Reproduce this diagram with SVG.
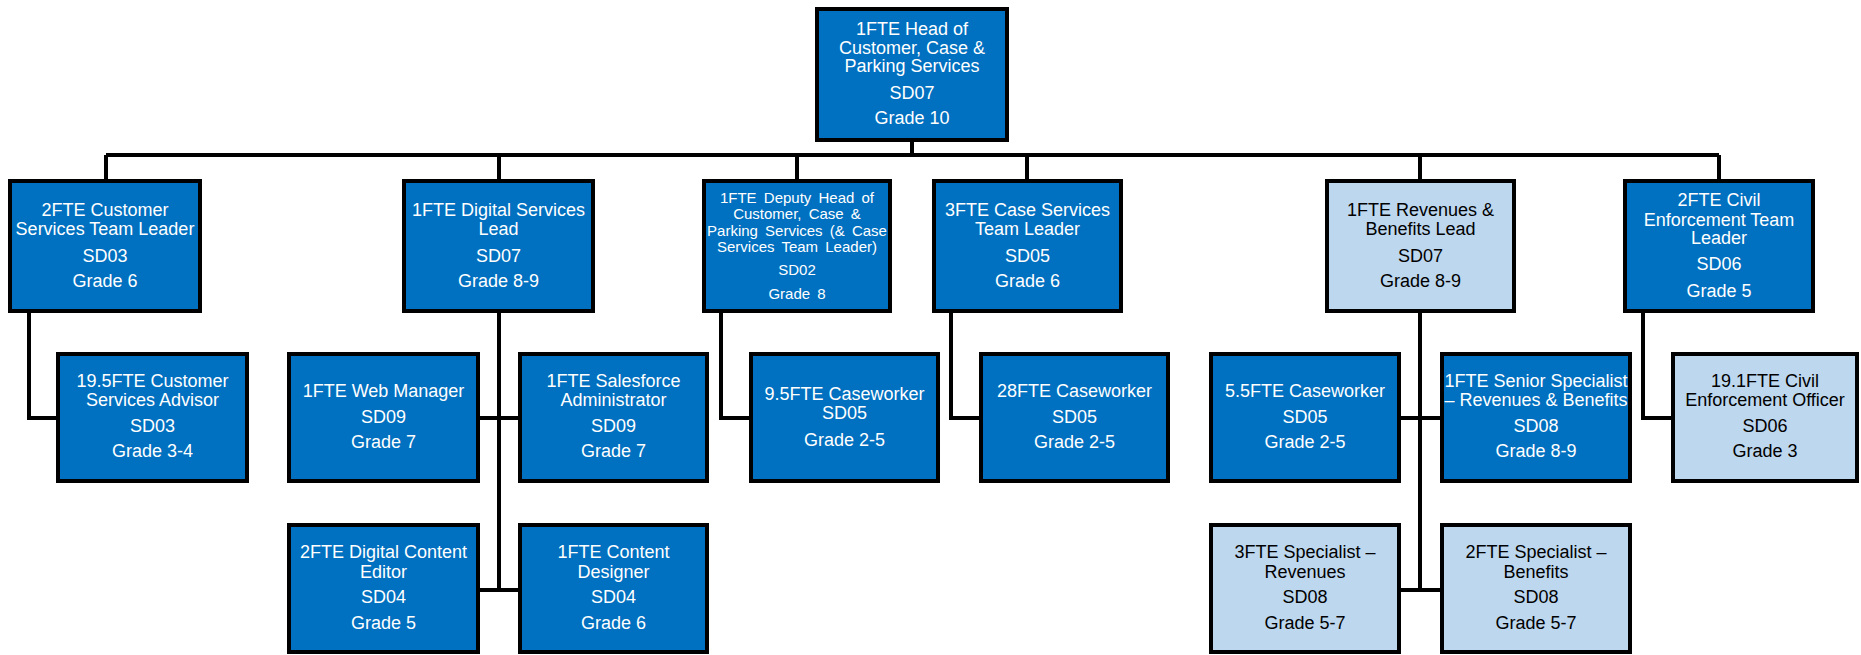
<svg xmlns="http://www.w3.org/2000/svg" width="1861" height="655" viewBox="0 0 1861 655">
  <style>
    .box { stroke: #000; stroke-width: 4; }
    .dk { fill: #0070C0; }
    .lt { fill: #BDD7EE; }
    .lbl { font-family: "Liberation Sans", Arial, sans-serif; font-size: 18px; text-anchor: middle; }
    .dk + .lbl { fill: #fff; }
    .lt + .lbl { fill: #000; }
    .sm { font-size: 15px; word-spacing: 3px; }
    .wire { fill: none; stroke: #000; stroke-width: 4; }
  </style>
  <rect width="1861" height="655" fill="#fff"/>

  <!-- reporting lines -->
  <g id="connectors" class="wire">
    <path d="M912 142 V155 M106 155 H1719 M106 155 V179 M499 155 V179 M797 155 V179 M1027 155 V179 M1420 155 V179 M1719 155 V179"/>
    <path d="M29 313 V418 H56"/>
    <path d="M499 313 V590 M480 418 H518 M480 590 H518"/>
    <path d="M721 313 V418 H749"/>
    <path d="M951 313 V418 H979"/>
    <path d="M1420 313 V590 M1401 418 H1440 M1401 590 H1440"/>
    <path d="M1643 313 V418 H1671"/>
  </g>

  <!-- head of service -->
  <g id="head">
    <rect class="box dk" x="817" y="9" width="190" height="131"/>
    <text class="lbl"><tspan x="912" y="35">1FTE Head of</tspan><tspan x="912" y="54">Customer, Case &amp;</tspan><tspan x="912" y="72">Parking Services</tspan><tspan x="912" y="99">SD07</tspan><tspan x="912" y="124">Grade 10</tspan></text>
  </g>

  <!-- second tier -->
  <g id="cs-team-leader">
    <rect class="box dk" x="10" y="181" width="190" height="130"/>
    <text class="lbl"><tspan x="105" y="216">2FTE Customer</tspan><tspan x="105" y="235">Services Team Leader</tspan><tspan x="105" y="262">SD03</tspan><tspan x="105" y="287">Grade 6</tspan></text>
  </g>
  <g id="digital-lead">
    <rect class="box dk" x="404" y="181" width="189" height="130"/>
    <text class="lbl"><tspan x="498.5" y="216">1FTE Digital Services</tspan><tspan x="498.5" y="235">Lead</tspan><tspan x="498.5" y="262">SD07</tspan><tspan x="498.5" y="287">Grade 8-9</tspan></text>
  </g>
  <g id="deputy-head">
    <rect class="box dk" x="704" y="181" width="186" height="130"/>
    <text class="lbl sm"><tspan x="797" y="203">1FTE Deputy Head of</tspan><tspan x="797" y="219">Customer, Case &amp;</tspan><tspan x="797" y="236">Parking Services (&amp; Case</tspan><tspan x="797" y="252">Services Team Leader)</tspan><tspan x="797" y="275">SD02</tspan><tspan x="797" y="299">Grade 8</tspan></text>
  </g>
  <g id="case-team-leader">
    <rect class="box dk" x="934" y="181" width="187" height="130"/>
    <text class="lbl"><tspan x="1027.5" y="216">3FTE Case Services</tspan><tspan x="1027.5" y="235">Team Leader</tspan><tspan x="1027.5" y="262">SD05</tspan><tspan x="1027.5" y="287">Grade 6</tspan></text>
  </g>
  <g id="revenues-lead">
    <rect class="box lt" x="1327" y="181" width="187" height="130"/>
    <text class="lbl"><tspan x="1420.5" y="216">1FTE Revenues &amp;</tspan><tspan x="1420.5" y="235">Benefits Lead</tspan><tspan x="1420.5" y="262">SD07</tspan><tspan x="1420.5" y="287">Grade 8-9</tspan></text>
  </g>
  <g id="civil-team-leader">
    <rect class="box dk" x="1625" y="181" width="188" height="130"/>
    <text class="lbl"><tspan x="1719" y="206">2FTE Civil</tspan><tspan x="1719" y="226">Enforcement Team</tspan><tspan x="1719" y="244">Leader</tspan><tspan x="1719" y="270">SD06</tspan><tspan x="1719" y="297">Grade 5</tspan></text>
  </g>

  <!-- third tier -->
  <g id="cs-advisor">
    <rect class="box dk" x="58" y="354" width="189" height="127"/>
    <text class="lbl"><tspan x="152.5" y="387">19.5FTE Customer</tspan><tspan x="152.5" y="406">Services Advisor</tspan><tspan x="152.5" y="432">SD03</tspan><tspan x="152.5" y="457">Grade 3-4</tspan></text>
  </g>
  <g id="web-manager">
    <rect class="box dk" x="289" y="354" width="189" height="127"/>
    <text class="lbl"><tspan x="383.5" y="397">1FTE Web Manager</tspan><tspan x="383.5" y="423">SD09</tspan><tspan x="383.5" y="448">Grade 7</tspan></text>
  </g>
  <g id="salesforce-admin">
    <rect class="box dk" x="520" y="354" width="187" height="127"/>
    <text class="lbl"><tspan x="613.5" y="387">1FTE Salesforce</tspan><tspan x="613.5" y="406">Administrator</tspan><tspan x="613.5" y="432">SD09</tspan><tspan x="613.5" y="457">Grade 7</tspan></text>
  </g>
  <g id="caseworker-deputy">
    <rect class="box dk" x="751" y="354" width="187" height="127"/>
    <text class="lbl"><tspan x="844.5" y="400">9.5FTE Caseworker</tspan><tspan x="844.5" y="419">SD05</tspan><tspan x="844.5" y="446">Grade 2-5</tspan></text>
  </g>
  <g id="caseworker-case">
    <rect class="box dk" x="981" y="354" width="187" height="127"/>
    <text class="lbl"><tspan x="1074.5" y="397">28FTE Caseworker</tspan><tspan x="1074.5" y="423">SD05</tspan><tspan x="1074.5" y="448">Grade 2-5</tspan></text>
  </g>
  <g id="caseworker-revenues">
    <rect class="box dk" x="1211" y="354" width="188" height="127"/>
    <text class="lbl"><tspan x="1305" y="397">5.5FTE Caseworker</tspan><tspan x="1305" y="423">SD05</tspan><tspan x="1305" y="448">Grade 2-5</tspan></text>
  </g>
  <g id="senior-specialist">
    <rect class="box dk" x="1442" y="354" width="188" height="127"/>
    <text class="lbl"><tspan x="1536" y="387">1FTE Senior Specialist</tspan><tspan x="1536" y="406">– Revenues &amp; Benefits</tspan><tspan x="1536" y="432">SD08</tspan><tspan x="1536" y="457">Grade 8-9</tspan></text>
  </g>
  <g id="civil-officer">
    <rect class="box lt" x="1673" y="354" width="184" height="127"/>
    <text class="lbl"><tspan x="1765" y="387">19.1FTE Civil</tspan><tspan x="1765" y="406">Enforcement Officer</tspan><tspan x="1765" y="432">SD06</tspan><tspan x="1765" y="457">Grade 3</tspan></text>
  </g>

  <!-- fourth tier -->
  <g id="content-editor">
    <rect class="box dk" x="289" y="525" width="189" height="127"/>
    <text class="lbl"><tspan x="383.5" y="558">2FTE Digital Content</tspan><tspan x="383.5" y="578">Editor</tspan><tspan x="383.5" y="603">SD04</tspan><tspan x="383.5" y="629">Grade 5</tspan></text>
  </g>
  <g id="content-designer">
    <rect class="box dk" x="520" y="525" width="187" height="127"/>
    <text class="lbl"><tspan x="613.5" y="558">1FTE Content</tspan><tspan x="613.5" y="578">Designer</tspan><tspan x="613.5" y="603">SD04</tspan><tspan x="613.5" y="629">Grade 6</tspan></text>
  </g>
  <g id="specialist-revenues">
    <rect class="box lt" x="1211" y="525" width="188" height="127"/>
    <text class="lbl"><tspan x="1305" y="558">3FTE Specialist –</tspan><tspan x="1305" y="578">Revenues</tspan><tspan x="1305" y="603">SD08</tspan><tspan x="1305" y="629">Grade 5-7</tspan></text>
  </g>
  <g id="specialist-benefits">
    <rect class="box lt" x="1442" y="525" width="188" height="127"/>
    <text class="lbl"><tspan x="1536" y="558">2FTE Specialist –</tspan><tspan x="1536" y="578">Benefits</tspan><tspan x="1536" y="603">SD08</tspan><tspan x="1536" y="629">Grade 5-7</tspan></text>
  </g>
</svg>
